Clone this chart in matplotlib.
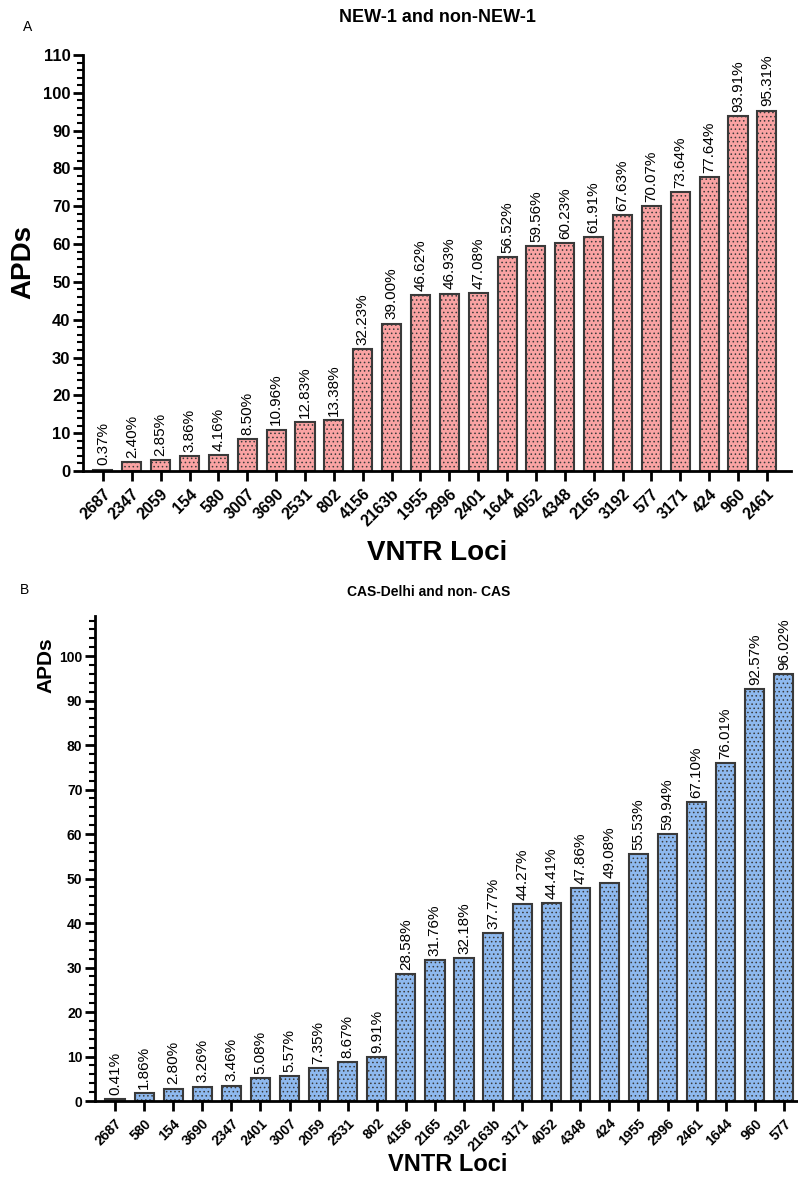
import numpy as np
import matplotlib.pyplot as plt
from matplotlib.ticker import MultipleLocator

plt.rcParams['font.family'] = ['Liberation Sans', 'DejaVu Sans']
plt.rcParams['hatch.linewidth'] = 0.6

# Panel A data
loci_a = ['2687', '2347', '2059', '154', '580', '3007', '3690', '2531', '802', '4156',
          '2163b', '1955', '2996', '2401', '1644', '4052', '4348', '2165', '3192', '577',
          '3171', '424', '960', '2461']
apd_a = [0.37, 2.40, 2.85, 3.86, 4.16, 8.50, 10.96, 12.83, 13.38, 32.23,
         39.00, 46.62, 46.93, 47.08, 56.52, 59.56, 60.23, 61.91, 67.63, 70.07,
         73.64, 77.64, 93.91, 95.31]

# Panel B data
loci_b = ['2687', '580', '154', '3690', '2347', '2401', '3007', '2059', '2531', '802',
          '4156', '2165', '3192', '2163b', '3171', '4052', '4348', '424', '1955', '2996',
          '2461', '1644', '960', '577']
apd_b = [0.41, 1.86, 2.80, 3.26, 3.46, 5.08, 5.57, 7.35, 8.67, 9.91,
         28.58, 31.76, 32.18, 37.77, 44.27, 44.41, 47.86, 49.08, 55.53, 59.94,
         67.10, 76.01, 92.57, 96.02]

edge = '#3a3a3a'


def draw_panel(ax, loci, vals, color, ymax, yticks, xlim, tick_fs, lab_fs, val_fs):
    x = np.arange(len(loci))
    bars = ax.bar(x, vals, width=0.66, color=color, edgecolor=edge,
                  linewidth=1.5, hatch='....', zorder=2)
    for b, v in zip(bars, vals):
        ax.annotate(f'{v:.2f}%', (b.get_x() + b.get_width() / 2, v),
                    xytext=(0, 3), textcoords='offset points',
                    ha='center', va='bottom', rotation=90, fontsize=val_fs)
    ax.set_xlim(*xlim)
    ax.set_ylim(0, ymax)
    ax.set_xticks(x)
    ax.set_xticklabels(loci, rotation=45, ha='right', rotation_mode='anchor',
                       fontweight='bold', fontsize=lab_fs)
    ax.set_yticks(yticks)
    ax.set_yticklabels([str(t) for t in yticks], fontweight='bold', fontsize=tick_fs)
    ax.yaxis.set_minor_locator(MultipleLocator(2))
    ax.spines['top'].set_visible(False)
    ax.spines['right'].set_visible(False)
    ax.spines['left'].set_linewidth(2)
    ax.spines['bottom'].set_linewidth(2)
    ax.tick_params(axis='y', which='major', length=7, width=2, pad=2)
    ax.tick_params(axis='y', which='minor', length=4, width=1.5)
    ax.tick_params(axis='x', which='major', length=7, width=2, pad=4)


fig = plt.figure(figsize=(7.98, 11.82), dpi=100)

ax1 = fig.add_axes([0.104, 0.6015, 0.887, 0.352])
draw_panel(ax1, loci_a, apd_a, '#FAA3A3', 110, np.arange(0, 111, 10),
           (-0.69, 23.83), 12, 11.5, 11)

ax2 = fig.add_axes([0.119, 0.0685, 0.8797, 0.4103])
draw_panel(ax2, loci_b, apd_b, '#8EB9EF', 109, np.arange(0, 101, 10),
           (-0.69, 23.45), 10, 10, 11)

fig.text(0.034, 0.977, 'A', fontsize=10, ha='center', va='center')
fig.text(0.548, 0.985, 'NEW-1 and non-NEW-1', fontsize=13, fontweight='bold',
         ha='center', va='center')
fig.text(0.029, 0.778, 'APDs', fontsize=20, fontweight='bold', rotation=90,
         ha='center', va='center')
fig.text(0.548, 0.532, 'VNTR Loci', fontsize=20, fontweight='bold',
         ha='center', va='center')

fig.text(0.031, 0.501, 'B', fontsize=10, ha='center', va='center')
fig.text(0.537, 0.499, 'CAS-Delhi and non- CAS', fontsize=10, fontweight='bold',
         ha='center', va='center')
fig.text(0.057, 0.437, 'APDs', fontsize=15, fontweight='bold', rotation=90,
         ha='center', va='center')
fig.text(0.561, 0.0145, 'VNTR Loci', fontsize=17, fontweight='bold',
         ha='center', va='center')

fig.savefig('out.png', dpi=100)
